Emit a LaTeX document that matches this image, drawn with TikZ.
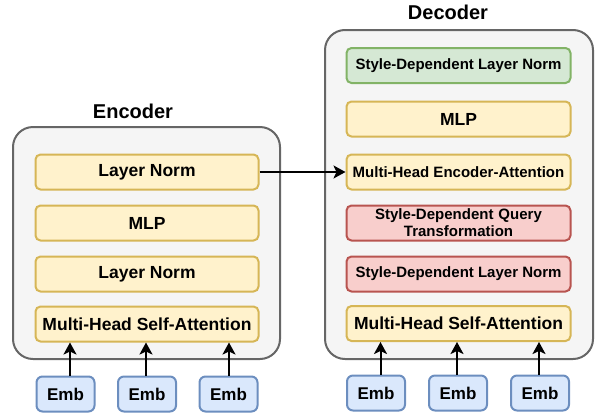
\documentclass[tikz,border=0pt]{standalone}
\usepackage{fontspec}
\setmainfont{Liberation Sans}
\usetikzlibrary{arrows.meta}
\definecolor{yfill}{HTML}{FFF2CC}
\definecolor{ydraw}{HTML}{D6B656}
\definecolor{gfill}{HTML}{D5E8D4}
\definecolor{gdraw}{HTML}{82B366}
\definecolor{rfill}{HTML}{F8CECC}
\definecolor{rdraw}{HTML}{B85450}
\definecolor{bfill}{HTML}{DAE8FC}
\definecolor{bdraw}{HTML}{6C8EBF}
\definecolor{cfill}{HTML}{F5F5F5}
\definecolor{cdraw}{HTML}{666666}
\tikzset{
  container/.style={draw=cdraw,fill=cfill,line width=2pt,rounded corners=20pt},
  layerbox/.style={rectangle,rounded corners=5pt,line width=2pt,inner sep=0pt,
    minimum height=35pt,align=center,font=\bfseries\fontsize{17.5}{20}\selectfont},
  ybox/.style={layerbox,draw=ydraw,fill=yfill},
  gbox/.style={layerbox,draw=gdraw,fill=gfill},
  rbox/.style={layerbox,draw=rdraw,fill=rfill},
  small/.style={font=\bfseries\fontsize{15}{17}\selectfont},
  embbox/.style={rectangle,rounded corners=6pt,line width=2pt,inner sep=0pt,
    draw=bdraw,fill=bfill,minimum width=58pt,minimum height=35pt,
    font=\bfseries\fontsize{17}{20}\selectfont},
  title/.style={font=\bfseries\fontsize{20}{24}\selectfont},
  arr/.style={line width=2pt,-{Stealth[length=12pt,width=13pt,inset=3pt]}}
}
\begin{document}
\begin{tikzpicture}[x=1pt,y=-1pt]
\useasboundingbox (0,0) rectangle (597,418);
% containers
\draw[container] (13,127) rectangle (280,359);
\draw[container] (325,30) rectangle (593,359);
\node[title] (enctitle) at (133,111) {Encoder};
\node[title] (dectitle) at (448,12) {Decoder};
% encoder
\node[ybox,minimum width=223pt] (eln1) at (147,172) {Layer Norm};
\node[ybox,minimum width=223pt] (emlp) at (147,223) {MLP};
\node[ybox,minimum width=223pt] (eln2) at (147,274) {Layer Norm};
\node[ybox,minimum width=223pt] (emhsa) at (147,324) {Multi-Head Self-Attention};
% decoder
\node[gbox,small,minimum width=224pt] (dsdln1) at (458.5,65.5) {Style-Dependent Layer Norm};
\node[ybox,minimum width=224pt] (dmlp) at (458.5,119) {MLP};
\node[ybox,small,minimum width=224pt] (dmhea) at (458.5,172) {Multi-Head Encoder-Attention};
\node[rbox,small,minimum width=224pt,text width=220pt,align=center] (dsdqt) at (458.5,223) {Style-Dependent Query\\Transformation};
\node[rbox,small,minimum width=224pt] (dsdln2) at (458.5,274) {Style-Dependent Layer Norm};
\node[ybox,minimum width=224pt] (dmhsa) at (458.5,323.5) {Multi-Head Self-Attention};
% embeddings
\node[embbox] (ee1) at (65.5,394) {Emb};
\node[embbox] (ee2) at (147,394) {Emb};
\node[embbox] (ee3) at (228.5,394) {Emb};
\node[embbox] (de1) at (376,393) {Emb};
\node[embbox] (de2) at (458,393) {Emb};
\node[embbox] (de3) at (540,393) {Emb};
% arrow x positions
\coordinate (xa1) at (70,0);
\coordinate (xa2) at (146,0);
\coordinate (xa3) at (229,0);
\coordinate (xb1) at (380.5,0);
\coordinate (xb2) at (457,0);
\coordinate (xb3) at (539,0);
\draw[arr] (ee1.north -| xa1) -- (emhsa.south -| xa1);
\draw[arr] (ee2.north -| xa2) -- (emhsa.south -| xa2);
\draw[arr] (ee3.north -| xa3) -- (emhsa.south -| xa3);
\draw[arr] (de1.north -| xb1) -- (dmhsa.south -| xb1);
\draw[arr] (de2.north -| xb2) -- (dmhsa.south -| xb2);
\draw[arr] (de3.north -| xb3) -- (dmhsa.south -| xb3);
\draw[arr] (eln1.east) -- (dmhea.west);
\end{tikzpicture}
\end{document}
